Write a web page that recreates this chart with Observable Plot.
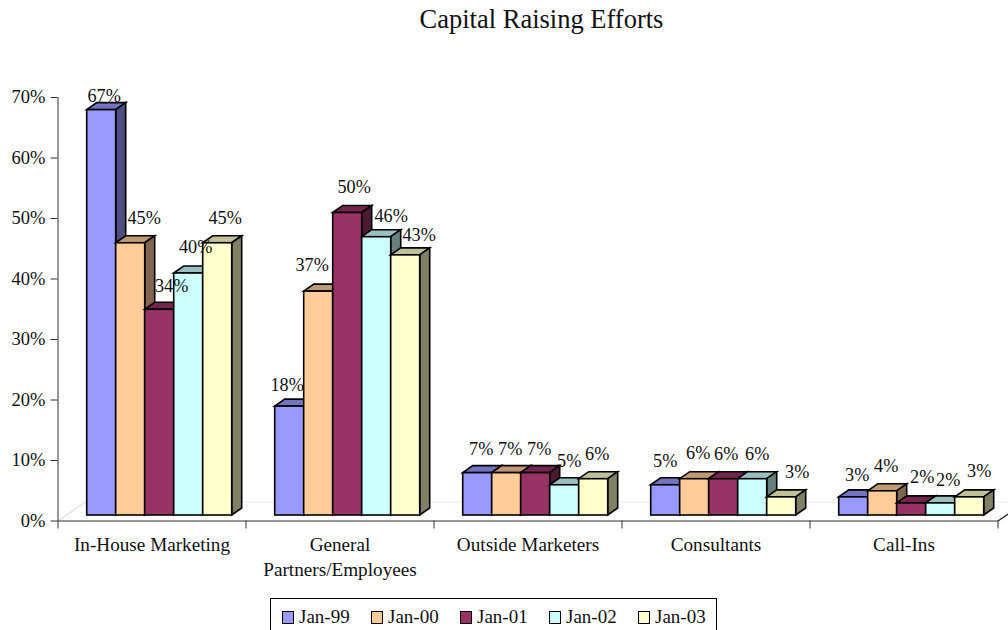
<!DOCTYPE html>
<html><head><meta charset="utf-8">
<script src="https://cdn.jsdelivr.net/npm/d3@7"></script>
<script src="https://cdn.jsdelivr.net/npm/@observablehq/plot@0.6"></script>
<style>
html,body{margin:0;padding:0;background:#fff;overflow:hidden;width:1008px;height:630px;position:relative;font-family:"Liberation Serif",serif;color:#111}
#title{position:absolute;left:0;top:4px;width:1083px;text-align:center;font-size:26.5px;line-height:30px}
#chart{position:absolute;left:0;top:44px}
#legend{position:absolute;left:270px;top:598px;width:447px;height:50px;border:1px solid #000;box-sizing:border-box;}
.it{position:absolute;top:6px;display:flex;align-items:center;font-size:19px;height:24px}
.sw{display:inline-block;width:10px;height:11px;border:1.5px solid #000;margin-right:5px}
</style></head><body>
<div id="title">Capital Raising Efforts</div>
<div id="chart"></div>
<div id="legend"></div>
<script>
const categories = ["In-House Marketing","General\nPartners/Employees","Outside Marketers","Consultants","Call-Ins"];
const seriesNames = ["Jan-99","Jan-00","Jan-01","Jan-02","Jan-03"];
const seriesColors = ["#9999FF","#FFCC99","#993366","#CCFFFF","#FFFFCC"];
const jan99 = [67,18,7,5,3];
const jan00 = [45,37,7,6,4];
const jan01 = [34,50,7,6,2];
const jan02 = [40,46,5,6,2];
const jan03 = [45,43,6,3,3];
const seriesValues = [jan99,jan00,jan01,jan02,jan03];
const yTicks = [0,10,20,30,40,50,60,70];

// layout constants (pixels / group units)
const groupPx = 188, barPx = 29, leadPx = 29.2, depthX = 10, depthY = 7, baseLift = 5.5;
const floorX = 27.5, floorY = 19;
// Per-label placement as in the source: [dx from bar left, dy from bar top], by series then category
const labelNudge = [
  [[17,-14],[12,-21],[18,-24],[14,-24],[18,-22]],
  [[28,-25],[8,-26],[18,-24],[18,-26],[18,-25]],
  [[26.5,-24],[21,-25.5],[18,-24],[17,-25],[25,-26]],
  [[21.5,-26],[29,-21],[19,-24],[19,-25],[22,-23]],
  [[22,-25],[28,-20],[18,-25],[30,-25],[24,-26]]
];

const rows = [];
seriesNames.forEach((s,si)=>categories.forEach((c,ci)=>{
  const x1 = ci + (leadPx + si*barPx)/groupPx;
  rows.push({series:s, color:seriesColors[si], value:seriesValues[si][ci], x1, x2:x1+barPx/groupPx,
             ci, si, nudge:labelNudge[si][ci]});
}));
rows.sort((a,b)=>a.ci-b.ci||a.si-b.si);

const shade = (c,f)=>{const r=d3.rgb(c);return d3.rgb(r.r*f,r.g*f,r.b*f).formatHex();};
function bars3d(index, scales, values, dims, ctx, next){
  const g = next(index, scales, values, dims, ctx);
  const rects = g.querySelectorAll("rect");
  const ns = "http://www.w3.org/2000/svg";
  rects.forEach((r,k)=>{
    const i = index[k], xa = values.x1[i], xb = values.x2[i], yt = values.y2[i], yb = values.y1[i];
    const fill = rows[i].color;
    const mk = (pts,f)=>{const p=document.createElementNS(ns,"polygon");p.setAttribute("points",pts.map(q=>q.join(",")).join(" "));p.setAttribute("fill",f);g.insertBefore(p,r);};
    mk([[xa,yt],[xa+depthX,yt-depthY],[xb+depthX,yt-depthY],[xb,yt]],shade(fill,0.75));
    mk([[xb,yt],[xb+depthX,yt-depthY],[xb+depthX,yb-depthY],[xb,yb]],shade(fill,0.5));
  });
  return g;
}

const fx = floorX/groupPx, fy = floorY/6.05;
const plot = Plot.plot({
  width:1008, height:548,
  marginLeft:57.5, marginRight:10.5, marginTop:53, marginBottom:71.5,
  style:{fontFamily:"Liberation Serif, serif",fontSize:"18.5px",color:"#111",background:"transparent",overflow:"visible"},
  x:{domain:[0,5],axis:null},
  y:{domain:[0,70],axis:null},
  marks:[
    Plot.line([[0,0],[fx,fy]],{stroke:"#e4e4e4",strokeDasharray:"2,1",strokeWidth:1.5}),
    Plot.line([[fx,fy],[5+fx,fy]],{stroke:"#e8e8e8",strokeWidth:1}),
    Plot.rect(rows,{x1:"x1",x2:"x2",y1:()=>0,y2:"value",fill:"color",stroke:"#000",strokeWidth:1.6,dy:-baseLift,render:bars3d}),
    Plot.ruleX([0],{y1:0,y2:70,stroke:"#333"}),
    Plot.ruleY([0],{x1:0,x2:5,stroke:"#333"}),
    Plot.line([[5,0],[5+fx,fy]],{stroke:"#333"}),
    Plot.axisY(yTicks,{tickSize:7,tickPadding:5.5,tickFormat:d=>d+"%",stroke:"#333",fill:"#111",label:null,fontSize:18.5}),
    Plot.axisX(d3.range(6),{tickSize:8,tickFormat:()=>"",stroke:"#333",label:null}),
    Plot.axisX(categories.map((c,i)=>i+0.5),{tickSize:0,tickPadding:12,tickFormat:d=>categories[d-0.5],lineHeight:1.3,fill:"#111",label:null,fontSize:19.2}),
    ...rows.map(r=>Plot.text([r],{x:"x1",y:"value",text:d=>d.value+"%",dx:r.nudge[0],dy:r.nudge[1]-baseLift,fill:"#111",fontSize:18.2}))
  ]
});
document.getElementById("chart").append(plot);

const lg = document.getElementById("legend");
seriesNames.forEach((s,i)=>{
  const it=document.createElement("div");it.className="it";it.style.left=(11+i*89)+"px";
  const sw=document.createElement("span");sw.className="sw";sw.style.background=seriesColors[i];
  it.append(sw,document.createTextNode(s));lg.append(it);
});
</script></body></html>
